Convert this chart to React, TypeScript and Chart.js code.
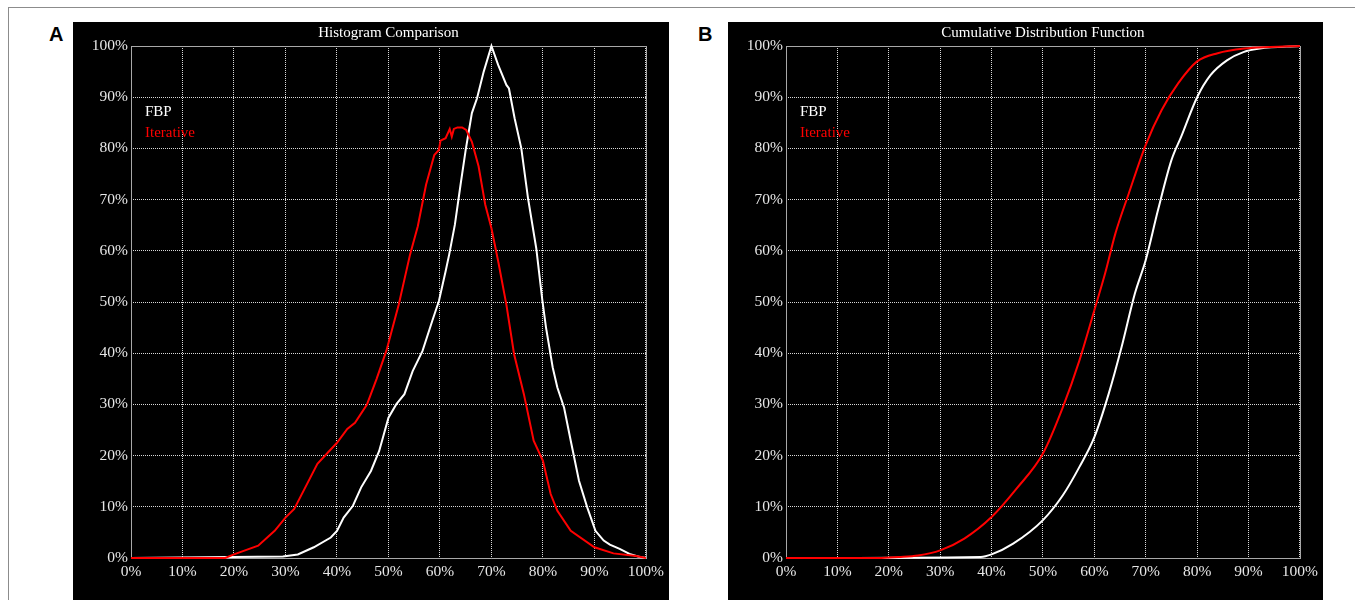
import React, { useEffect, useRef } from "react";
import { Chart, registerables } from "chart.js";

Chart.register(...registerables);

// ---- Data (percent values) ----
const tickLabels = ["0%", "10%", "20%", "30%", "40%", "50%", "60%", "70%", "80%", "90%", "100%"];

const histFbpX = [0, 29.5, 32.4, 35.5, 38.8, 40, 41.3, 43.1, 44.7, 46.6, 48.2, 50, 51.5, 53.1, 54.7, 56.6, 58.5, 59.8, 61.1, 61.8, 62.9, 64, 65, 66.2, 67.2, 68.5, 70, 71.3, 72.9, 73.4, 74.5, 75.8, 77.1, 78.7, 79.9, 80.6, 81.9, 82.8, 84.1, 85.4, 87, 88.6, 90.2, 91.8, 93, 94.9, 96.8, 98.8, 100];
const histFbpY = [0, 0.3, 0.7, 2.1, 4, 5.3, 7.9, 10.2, 13.8, 17, 20.9, 27.4, 30, 32, 36.5, 40.4, 46.3, 50.2, 56, 59.3, 65.1, 72.9, 79.7, 86.9, 89.8, 95, 100, 96.3, 92.4, 91.7, 85.9, 80, 70.3, 60.5, 50.2, 45, 37.2, 33.3, 29.4, 22.9, 15.1, 9.9, 5.3, 3.4, 2.6, 1.8, 0.8, 0.2, 0];

const histIterX = [0, 18.3, 20, 24.7, 27.9, 30, 31.7, 33.7, 36.2, 40, 42, 43.5, 45.8, 47.7, 49.6, 52, 54.2, 55.7, 57.3, 58.9, 59.8, 60.1, 61.1, 61.9, 62.3, 62.7, 63.4, 64.3, 65.1, 66.2, 67.5, 68.8, 70, 71.3, 72.9, 74.4, 76.3, 78.2, 80, 81.5, 82.8, 85.4, 90, 93.7, 98.1, 100];
const histIterY = [0, 0, 0.7, 2.4, 5.3, 7.9, 9.6, 13.5, 18.4, 22.5, 25.2, 26.4, 29.9, 35, 40.5, 49.5, 59.3, 64.8, 72.9, 78.7, 79.7, 81.5, 82, 83.8, 82.3, 83.8, 84.1, 84.1, 83.6, 81.3, 76.5, 69, 64.4, 58, 49.5, 39.8, 32, 22.9, 19, 12.5, 9.2, 5.3, 2.1, 0.9, 0.4, 0];

const cdfFbpX = [0, 37.9, 40, 44.2, 50, 53.9, 57.1, 60, 62.8, 65.3, 67.9, 70, 72.4, 75, 76.9, 80, 82.6, 85.8, 89, 92.2, 100];
const cdfFbpY = [0, 0.2, 0.7, 2.8, 7.4, 12.3, 17.8, 23.6, 32.1, 41.2, 51.7, 58.2, 68, 77.7, 82.3, 90, 94.3, 97.2, 98.8, 99.5, 100];

const cdfIterX = [0, 18, 21.9, 25.7, 30, 34.7, 40, 44.9, 50, 53.9, 57.1, 60, 62.1, 64.1, 66.7, 70, 73.1, 76.3, 80, 84, 89.2, 94.2, 100];
const cdfIterY = [0, 0, 0.2, 0.5, 1.5, 3.8, 8, 13.6, 20.4, 29.5, 38.6, 48.4, 55.6, 63.4, 71.2, 80.7, 87.5, 92.7, 97, 98.6, 99.5, 99.8, 100];

const seriesLabels = ["FBP", "Iterative"];
const seriesColors = ["#ffffff", "#ff0000"];

const SERIF = "'Liberation Serif', 'Times New Roman', serif";

function toPoints(xs: number[], ys: number[]) {
  return xs.map((x, i) => ({ x, y: ys[i] }));
}

const overlayPlugin = {
  id: "overlay",
  beforeDatasetsDraw(chart: any) {
    const { ctx, chartArea } = chart;
    ctx.save();
    ctx.strokeStyle = "#a8a8a8";
    ctx.lineWidth = 1;
    ctx.strokeRect(
      Math.round(chartArea.left) + 0.5,
      Math.round(chartArea.top) + 0.5,
      Math.round(chartArea.right - chartArea.left),
      Math.round(chartArea.bottom - chartArea.top)
    );
    ctx.restore();
  },
  afterDraw(chart: any) {
    const { ctx, chartArea } = chart;
    const opts = chart.options.plugins.overlay || {};
    ctx.save();
    // title
    ctx.fillStyle = "#ffffff";
    ctx.font = `15px ${SERIF}`;
    ctx.textAlign = "center";
    ctx.textBaseline = "middle";
    ctx.fillText(opts.title || "", (chartArea.left + chartArea.right) / 2, 11);
    // legend text
    ctx.font = `15px ${SERIF}`;
    ctx.textAlign = "left";
    chart.data.datasets.forEach((ds: any, i: number) => {
      ctx.fillStyle = ds.borderColor;
      ctx.fillText(ds.label, chartArea.left + 14, chartArea.top + 66 + i * 21);
    });
    ctx.restore();
  },
};

function ChartPanel(props: {
  title: string;
  fbpX: number[];
  fbpY: number[];
  iterX: number[];
  iterY: number[];
  width: number;
  height: number;
  rightPad: number;
  smooth: boolean;
}) {
  const ref = useRef<HTMLCanvasElement | null>(null);
  useEffect(() => {
    if (!ref.current) return;
    const interp = props.smooth ? "monotone" : "default";
    const chart = new Chart(ref.current, {
      type: "line",
      data: {
        datasets: [
          {
            label: seriesLabels[0],
            data: toPoints(props.fbpX, props.fbpY),
            borderColor: seriesColors[0],
            borderWidth: 2,
            pointRadius: 0,
            tension: 0,
            cubicInterpolationMode: interp,
            clip: 3,
            order: 1,
          },
          {
            label: seriesLabels[1],
            data: toPoints(props.iterX, props.iterY),
            borderColor: seriesColors[1],
            borderWidth: 2,
            pointRadius: 0,
            tension: 0,
            cubicInterpolationMode: interp,
            clip: 3,
            order: 0,
          },
        ],
      },
      options: {
        animation: false,
        responsive: false,
        maintainAspectRatio: false,
        events: [],
        layout: { padding: { left: 0, right: props.rightPad, top: 24, bottom: 0 } },
        plugins: {
          legend: { display: false },
          tooltip: { enabled: false },
          title: { display: false },
          overlay: { title: props.title },
        } as any,
        scales: {
          x: {
            type: "linear",
            min: 0,
            max: 100,
            afterFit: (s: any) => {
              s.height = 42;
            },
            ticks: {
              stepSize: 10,
              autoSkip: false,
              maxRotation: 0,
              padding: 5,
              color: "#e6e6e6",
              font: { family: SERIF, size: 15.5 },
              callback: (_v: any, i: number) => tickLabels[i],
            },
            grid: { color: "#d8d8d8", lineWidth: 1, drawTicks: false },
            border: { display: false, dash: [1, 1] },
          },
          y: {
            type: "linear",
            min: 0,
            max: 100,
            afterFit: (s: any) => {
              s.width = 58;
            },
            ticks: {
              stepSize: 10,
              autoSkip: false,
              padding: 3,
              color: "#e6e6e6",
              font: { family: SERIF, size: 15.5 },
              callback: (_v: any, i: number) => tickLabels[i],
            },
            grid: { color: "#d8d8d8", lineWidth: 1, drawTicks: false },
            border: { display: false, dash: [1, 1] },
          },
        },
      },
      plugins: [overlayPlugin],
    } as any);
    return () => chart.destroy();
  }, []);
  return (
    <canvas
      ref={ref}
      width={props.width}
      height={props.height}
      style={{ width: props.width, height: props.height, display: "block" }}
    />
  );
}

export default function App() {
  const panelLabel: React.CSSProperties = {
    position: "absolute",
    top: 24,
    fontFamily: "'Liberation Sans', Arial, sans-serif",
    fontWeight: "bold",
    fontSize: 20,
    lineHeight: "20px",
    color: "#000",
  };
  return (
    <div
      style={{
        position: "absolute",
        left: 0,
        top: 0,
        width: 1355,
        height: 600,
        overflow: "hidden",
        background: "#ffffff",
      }}
    >
      <div style={{ position: "absolute", left: 8, top: 7, width: 1347, height: 1, background: "#8c8c8c" }} />
      <div style={{ position: "absolute", left: 8, top: 7, width: 1, height: 593, background: "#8c8c8c" }} />
      <div style={{ ...panelLabel, left: 49 }}>A</div>
      <div style={{ ...panelLabel, left: 698 }}>B</div>
      <div style={{ position: "absolute", left: 73, top: 22, width: 596, height: 578, background: "#000" }}>
        <ChartPanel
          title="Histogram Comparison"
          fbpX={histFbpX}
          fbpY={histFbpY}
          iterX={histIterX}
          iterY={histIterY}
          width={596}
          height={578}
          rightPad={17}
          smooth={false}
        />
      </div>
      <div style={{ position: "absolute", left: 728, top: 22, width: 595, height: 578, background: "#000" }}>
        <ChartPanel
          title="Cumulative Distribution Function"
          fbpX={cdfFbpX}
          fbpY={cdfFbpY}
          iterX={cdfIterX}
          iterY={cdfIterY}
          width={595}
          height={578}
          rightPad={16}
          smooth={true}
        />
      </div>
    </div>
  );
}
